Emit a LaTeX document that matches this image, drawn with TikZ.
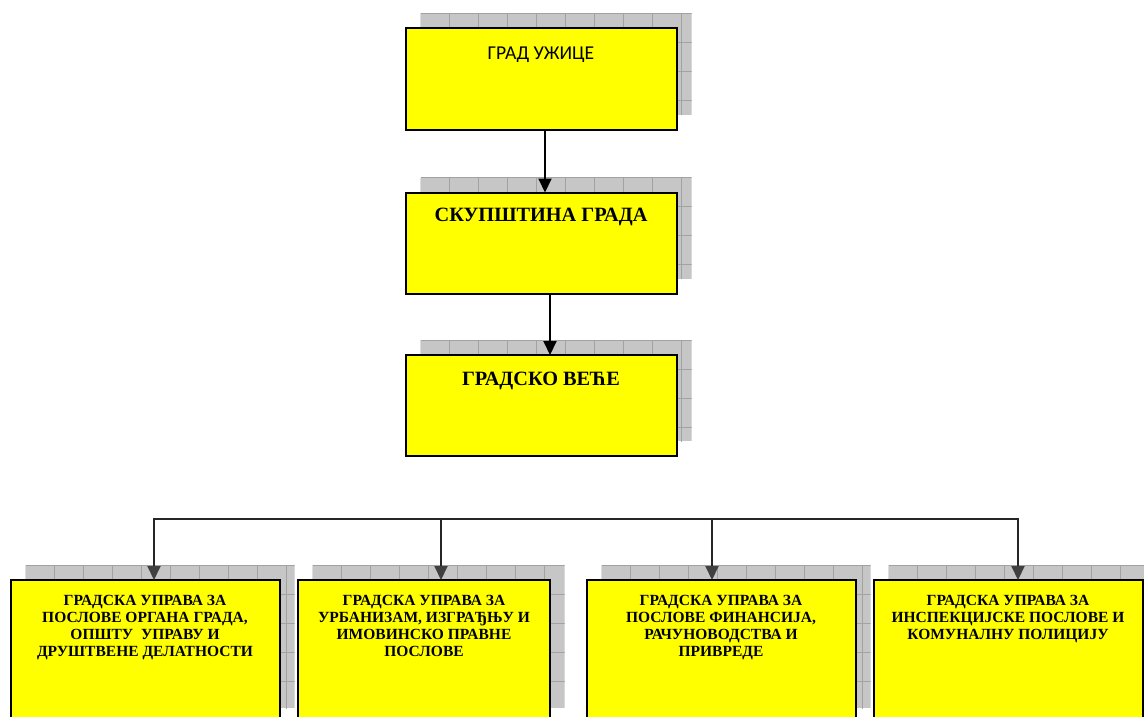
\documentclass[tikz,border=0pt]{standalone}
\usepackage{fontspec}
\setmainfont{Liberation Serif}
\newfontfamily\calfont{Carlito}
\usetikzlibrary{arrows.meta,backgrounds}
\definecolor{boxyellow}{HTML}{FFFF00}
\definecolor{shfillc}{HTML}{C6C6C6}
\definecolor{shgridc}{HTML}{A2A2A2}
\definecolor{arrgrey}{HTML}{404040}
\tikzset{
  box/.style={draw=black, line width=2pt, fill=boxyellow, inner sep=0pt, outer sep=0pt},
  topbox/.style={box, minimum width=271pt, minimum height=101pt},
  lowbox/.style={box, minimum height=143pt},
  lbl/.style={inner sep=0pt, anchor=north, align=center},
  toptext/.style={lbl, font=\calfont\fontsize{19.6}{23}\selectfont},
  midtext/.style={lbl, font=\bfseries\fontsize{20.3}{24}\selectfont},
  lowtext/.style={lbl, font=\bfseries\fontsize{15.5}{17}\selectfont},
  arrblack/.style={line width=2pt, draw=black, -{Triangle[length=14pt,width=13pt]}},
  arrlow/.style={line width=2pt, draw=black!85, -{Triangle[length=14pt,width=13pt,color=arrgrey]}},
  busline/.style={line width=2pt, draw=black!85, line cap=rect},
  shfill/.style={fill=shfillc},
  shgrid/.style={draw=shgridc, line width=0.8pt}
}
\newcommand\myshadow[1]{%
  \begin{scope}
    \path ([shift={(15,-15)}]#1.north west) coordinate (#1-snw)
          ([shift={(15,-15)}]#1.south east) coordinate (#1-sse);
    \clip (#1-snw) rectangle (#1-sse);
    \fill[shfill] (#1-snw) rectangle (#1-sse);
    \begin{scope}[shift={(#1-snw)}]
      \draw[shgrid] (0pt,0pt) grid[step=29pt] (400pt,-200pt);
    \end{scope}
  \end{scope}}
\begin{document}
\begin{tikzpicture}[x=1pt,y=-1pt]
\useasboundingbox (0,0) rectangle (1144,717);

% boxes
\node[topbox] (grad) at (541,79) {};
\node[topbox] (skup) at (541,243) {};
\node[topbox] (vece) at (541,405.5) {};
\node[lowbox, minimum width=269pt] (upA) at (145,651.5) {};
\node[lowbox, minimum width=252pt] (upB) at (423.5,651.5) {};
\node[lowbox, minimum width=269pt] (upC) at (721,651.5) {};
\node[lowbox, minimum width=269pt] (upD) at (1008,651.5) {};

% texts
\node[toptext] (tgrad) at (541,47) {ГРАД УЖИЦЕ};
\node[midtext] (tskup) at (541,208) {СКУПШТИНА ГРАДА};
\node[midtext] (tvece) at (541,372) {ГРАДСКО ВЕЋЕ};
\node[lowtext] (tA) at (145,595) {ГРАДСКА УПРАВА ЗА\\ПОСЛОВЕ ОРГАНА ГРАДА,\\ОПШТУ\ \ УПРАВУ И\\ДРУШТВЕНЕ ДЕЛАТНОСТИ};
\node[lowtext] (tB) at (424,595) {ГРАДСКА УПРАВА ЗА\\УРБАНИЗАМ, ИЗГРАЂЊУ И\\ИМОВИНСКО ПРАВНЕ\\ПОСЛОВЕ};
\node[lowtext] (tC) at (721,595) {ГРАДСКА УПРАВА ЗА\\ПОСЛОВЕ ФИНАНСИЈА,\\РАЧУНОВОДСТВА И\\ПРИВРЕДЕ};
\node[lowtext] (tD) at (1008,595) {ГРАДСКА УПРАВА ЗА\\ИНСПЕКЦИЈСКЕ ПОСЛОВЕ И\\КОМУНАЛНУ ПОЛИЦИЈУ};

% background and shadows
\begin{scope}[on background layer]
  \fill[white] (0,0) rectangle (1144,717);
  \myshadow{grad}
  \myshadow{skup}
  \myshadow{vece}
  \myshadow{upA}
  \myshadow{upB}
  \myshadow{upC}
  \myshadow{upD}
\end{scope}

% connectors
\draw[arrblack] ([xshift=4pt]grad.south) -- ([xshift=4pt]skup.north);
\draw[arrblack] ([xshift=9pt]skup.south) -- ([xshift=9pt]vece.north);

\coordinate (bA) at (154,519);
\coordinate (bB) at (441,519);
\coordinate (bC) at (712,519);
\coordinate (bD) at (1018,519);
\draw[busline] (bA) -- (bD);
\draw[arrlow] (bA) -- (bA |- upA.north);
\draw[arrlow] (bB) -- (bB |- upB.north);
\draw[arrlow] (bC) -- (bC |- upC.north);
\draw[arrlow] (bD) -- (bD |- upD.north);
\end{tikzpicture}
\end{document}
